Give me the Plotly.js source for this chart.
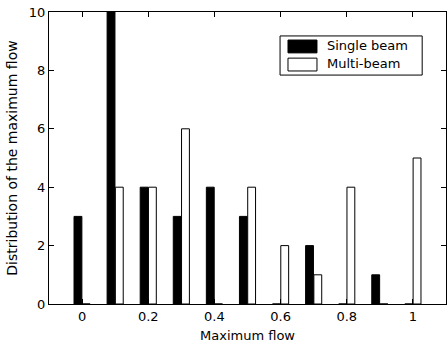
<!DOCTYPE html>
<html>
<head>
<meta charset="utf-8">
<script src="https://cdn.plot.ly/plotly-3.0.1.min.js"></script>
<style>html,body{margin:0;padding:0;background:#fff;}#chart{width:448px;height:347px;}</style>
</head>
<body>
<div id="chart"></div>
<script>
var categories = [0, 0.1, 0.2, 0.3, 0.4, 0.5, 0.6, 0.7, 0.8, 0.9, 1.0];
var singleBeam = [3, 10, 4, 3, 4, 3, 0, 2, 0, 1, 0];
var multiBeam  = [0, 4, 4, 6, 0, 4, 2, 1, 4, 0, 5];
var xTickVals = [0, 0.2, 0.4, 0.6, 0.8, 1];
var xTickText = ['0', '0.2', '0.4', '0.6', '0.8', '1'];
var yTickVals = [0, 2, 4, 6, 8, 10];
var seriesNames = ['Single beam', 'Multi-beam'];

var fam = 'DejaVu Sans, sans-serif';
var font = {family: fam, size: 13, color: '#000'};

var traces = [
  {type: 'bar', x: categories, y: singleBeam, name: seriesNames[0],
   marker: {color: '#000', line: {color: '#000', width: 1}}, showlegend: false},
  {type: 'bar', x: categories, y: multiBeam, name: seriesNames[1],
   marker: {color: '#fff', line: {color: '#000', width: 1}}, showlegend: false}
];

var layout = {
  width: 448, height: 347,
  margin: {l: 49, r: 2, t: 12, b: 43},
  paper_bgcolor: '#fff', plot_bgcolor: '#fff',
  font: font,
  barmode: 'group', bargap: 0.5, bargroupgap: 0.05,
  xaxis: {
    range: [-0.1, 1.1], tickvals: xTickVals, ticktext: xTickText,
    ticks: 'inside', ticklen: 5, tickcolor: '#000', mirror: 'ticks',
    showline: true, linecolor: '#000', linewidth: 1, showgrid: false, zeroline: false,
    title: {text: 'Maximum flow', font: {family: fam, size: 13}, standoff: 8},
    tickfont: font
  },
  yaxis: {
    range: [0, 10], tickvals: yTickVals,
    ticks: 'inside', ticklen: 5, tickcolor: '#000', mirror: 'ticks',
    showline: true, linecolor: '#000', linewidth: 1, showgrid: false, zeroline: false,
    title: {text: 'Distribution of the maximum flow', font: {family: fam, size: 14}, standoff: 7},
    tickfont: font
  },
  shapes: [
    {type: 'rect', xref: 'paper', yref: 'paper', x0: 0.582, x1: 0.940, y0: 0.784, y1: 0.918,
     line: {color: '#000', width: 1}, fillcolor: '#fff'},
    {type: 'rect', xref: 'paper', yref: 'paper', x0: 0.602, x1: 0.675, y0: 0.860, y1: 0.904,
     line: {color: '#000', width: 1}, fillcolor: '#000'},
    {type: 'rect', xref: 'paper', yref: 'paper', x0: 0.602, x1: 0.675, y0: 0.798, y1: 0.842,
     line: {color: '#000', width: 1}, fillcolor: '#fff'}
  ],
  annotations: [
    {xref: 'paper', yref: 'paper', x: 0.695, y: 0.884, text: seriesNames[0], showarrow: false,
     xanchor: 'left', yanchor: 'middle', font: {family: fam, size: 13}},
    {xref: 'paper', yref: 'paper', x: 0.695, y: 0.822, text: seriesNames[1], showarrow: false,
     xanchor: 'left', yanchor: 'middle', font: {family: fam, size: 13}}
  ]
};

Plotly.newPlot('chart', traces, layout, {staticPlot: true, displayModeBar: false});
</script>
</body>
</html>
